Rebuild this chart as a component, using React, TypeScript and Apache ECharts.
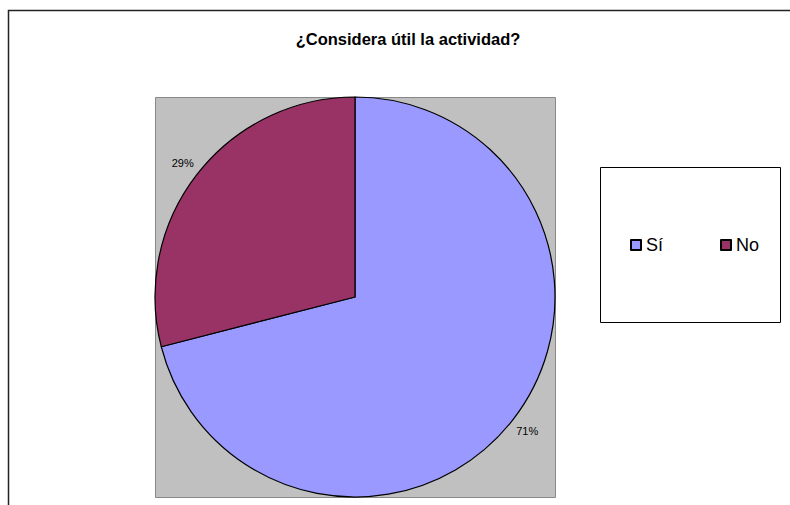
import React, { useEffect, useRef } from "react";
import * as echarts from "echarts";

const titleText = "¿Considera útil la actividad?";
const categories = ["Sí", "No"];
const values = [71, 29];
const colors = ["#9999FF", "#993366"];

export default function App() {
  const ref = useRef<HTMLDivElement>(null);
  useEffect(() => {
    document.body.style.margin = "0";
    const chart = echarts.init(ref.current!, null, { renderer: "svg" });
    const font = "'Liberation Sans', Arial, sans-serif";
    chart.setOption({
      animation: false,
      backgroundColor: "#ffffff",
      title: {
        text: titleText,
        left: 403,
        textAlign: "center",
        top: 25,
        textStyle: { fontFamily: font, fontSize: 16.5, fontWeight: "bold", color: "#000" },
      },
      graphic: [
        {
          type: "rect",
          z: -10,
          shape: { x: 8.5, y: 10.5, width: 900, height: 600 },
          style: { fill: "none", stroke: "#222222", lineWidth: 1.5 },
        },
        {
          type: "rect",
          z: -5,
          shape: { x: 155.5, y: 97.5, width: 400, height: 400 },
          style: { fill: "#C0C0C0", stroke: "#888888", lineWidth: 1 },
        },
        {
          type: "rect",
          z: -5,
          shape: { x: 600.5, y: 167.5, width: 180, height: 155 },
          style: { fill: "#ffffff", stroke: "#000000", lineWidth: 1 },
        },
      ],
      legend: {
        left: 630,
        top: 236,
        padding: 0,
        icon: "rect",
        itemWidth: 10,
        itemHeight: 10,
        itemGap: 57,
        data: categories,
        textStyle: { fontFamily: font, fontSize: 18, color: "#000" },
      },
      series: [
        {
          type: "pie",
          center: [355, 297],
          radius: 200,
          startAngle: 90,
          clockwise: true,
          avoidLabelOverlap: false,
          data: categories.map((c, i) => ({ name: c, value: values[i], itemStyle: { color: colors[i] } })),
          itemStyle: { borderColor: "#000000", borderWidth: 1.2 },
          label: {
            show: true,
            position: "outside",
            formatter: "{d}%",
            distanceToLabelLine: -11,
            fontFamily: font,
            fontSize: 11,
            color: "#000",
          },
          labelLine: { show: false, length: 18, length2: 0 },
          emphasis: { disabled: true },
        },
      ],
    });
    return () => chart.dispose();
  }, []);
  return <div ref={ref} style={{ width: 790, height: 505 }} />;
}
